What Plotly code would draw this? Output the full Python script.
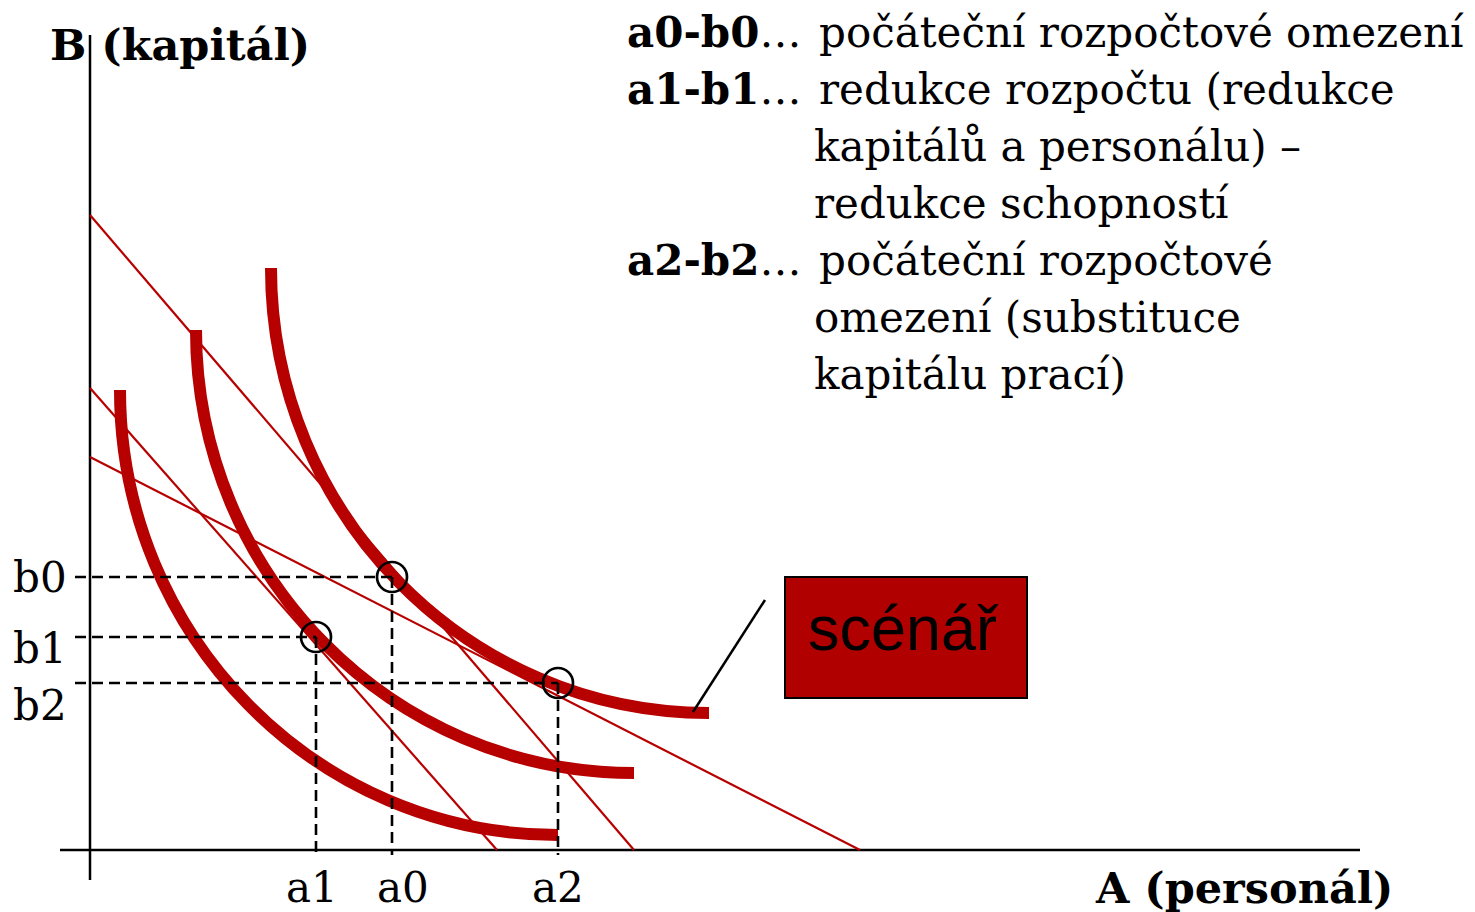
import plotly.graph_objects as go

# ---- data (conceptual units: origin at the axes' crossing) ----
# isoquants are quarter-ellipse arcs: start (top, vertical tangent) -> end (right, horizontal tangent)
iso_names = ["inner", "middle", "outer"]
iso_start_x = [30, 106, 181]
iso_start_y = [460, 520, 582]
iso_end_x = [468, 544, 619]
iso_end_y = [15, 77, 137]

# budget lines: (x-intercept, y-intercept)
budget_lines = {"a0-b0": (544, 635), "a1-b1": (407, 462), "a2-b2": (770, 393)}

# optimum points
pt_names = ["0", "1", "2"]
pt_a = [302, 226, 468]
pt_b = [273, 213, 167]

legend_labels = ["a0-b0", "a1-b1", "", "", "a2-b2", "", ""]
legend_texts = [
    "počáteční rozpočtové omezení",
    "redukce rozpočtu (redukce",
    "kapitálů a personálu) –",
    "redukce schopností",
    "počáteční rozpočtové",
    "omezení (substituce",
    "kapitálu prací)",
]

RED = "#B70000"
SERIF = "DejaVu Serif"
K = 0.5523  # cubic-Bezier constant for a quarter ellipse

fig = go.Figure()

# isoquants (drawn beneath all traces)
for sx, sy, ex, ey in zip(iso_start_x, iso_start_y, iso_end_x, iso_end_y):
    p1 = (sx, sy - K * (sy - ey))
    p2 = (ex - K * (ex - sx), ey)
    path = f"M {sx},{sy} C {p1[0]},{p1[1]} {p2[0]},{p2[1]} {ex},{ey}"
    fig.add_shape(type="path", path=path, xref="x", yref="y", layer="below",
                  line=dict(color=RED, width=12))

# axes
fig.add_trace(go.Scatter(x=[0, 0], y=[815, -30], mode="lines",
                         line=dict(color="black", width=2.5), hoverinfo="skip"))
fig.add_trace(go.Scatter(x=[-30, 1270], y=[0, 0], mode="lines",
                         line=dict(color="black", width=2.5), hoverinfo="skip"))

# budget lines
for name, (xi, yi) in budget_lines.items():
    fig.add_trace(go.Scatter(x=[0, xi], y=[yi, 0], mode="lines",
                             line=dict(color=RED, width=2.2), hoverinfo="skip"))

# dashed guides
for a, b in zip(pt_a, pt_b):
    fig.add_trace(go.Scatter(x=[-15, a], y=[b, b], mode="lines",
                             line=dict(color="black", width=2.6, dash="11px,6px"), hoverinfo="skip"))
    fig.add_trace(go.Scatter(x=[a, a], y=[b, -5], mode="lines",
                             line=dict(color="black", width=2.6, dash="11px,6px"), hoverinfo="skip"))

# points
fig.add_trace(go.Scatter(x=pt_a, y=pt_b, mode="markers",
                         marker=dict(size=30, color="rgba(0,0,0,0)",
                                     line=dict(color="black", width=2.7)),
                         hoverinfo="skip"))

# leader line to the outer isoquant
fig.add_trace(go.Scatter(x=[675, 603], y=[250, 138], mode="lines",
                         line=dict(color="black", width=2.5), hoverinfo="skip"))

# scenario box
fig.add_shape(type="rect", x0=695, x1=937, y0=152, y1=273,
              fillcolor="#B00000", line=dict(color="black", width=2))
fig.add_annotation(x=813, y=222, text="scénář", showarrow=False,
                   font=dict(family="Liberation Sans", size=63, color="black"))

# tick labels
for n, a in zip(pt_names, pt_a):
    fig.add_annotation(x=a + (-4 if n == "1" else (11 if n == "0" else 0)), y=-37,
                       text="a" + n, showarrow=False,
                       font=dict(family=SERIF, size=42, color="black"))
b_label_y = {"0": 273, "1": 202, "2": 145}
for n in pt_names:
    fig.add_annotation(x=-50, y=b_label_y[n], text="b" + n, showarrow=False,
                       font=dict(family=SERIF, size=42, color="black"))

# axis titles
fig.add_annotation(x=-42, y=805, text="<b>B (kapitál)</b>", showarrow=False,
                   xanchor="left", font=dict(family=SERIF, size=43, color="black"))
fig.add_annotation(x=1003, y=-38, text="<b>A (personál)</b>", showarrow=False,
                   xanchor="left", font=dict(family=SERIF, size=43, color="black"))

# legend text block
row_y = [818, 761, 704, 647, 590, 533, 476]
for lab, txt, yy in zip(legend_labels, legend_texts, row_y):
    if lab:
        fig.add_annotation(x=535, y=yy, text="<b>" + lab + "</b>…", showarrow=False,
                           xanchor="left", font=dict(family=SERIF, size=42, color="black"))
    fig.add_annotation(x=727 if lab else 722, y=yy, text=txt, showarrow=False, xanchor="left",
                       font=dict(family=SERIF, size=42, color="black"))

fig.update_layout(
    width=1475, height=912, margin=dict(l=0, r=0, t=0, b=0),
    paper_bgcolor="white", plot_bgcolor="white", showlegend=False,
    xaxis=dict(range=[-90, 1385], visible=False, fixedrange=True),
    yaxis=dict(range=[-62, 850], visible=False, fixedrange=True),
)

fig.write_html("out.html", config={"displayModeBar": False},
               post_script="document.body.style.margin='0';document.body.style.overflow='hidden';")
